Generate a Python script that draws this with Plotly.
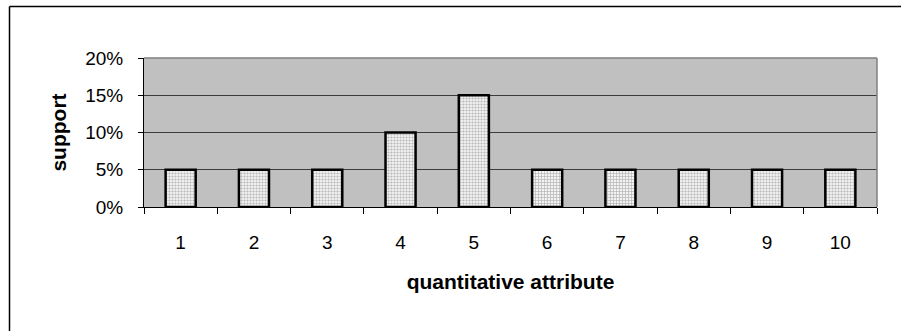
import plotly.graph_objects as go

categories = ["1", "2", "3", "4", "5", "6", "7", "8", "9", "10"]
support = [0.05, 0.05, 0.05, 0.10, 0.15, 0.05, 0.05, 0.05, 0.05, 0.05]
y_ticks = [0, 0.05, 0.10, 0.15, 0.20]
y_tick_labels = ["0%", "5%", "10%", "15%", "20%"]
patterns = [".", ".", ".", ".", ".", "+", "+", ".", ".", "."]

FONT = "Liberation Sans, Arial, sans-serif"

fig = go.Figure()
fig.add_trace(go.Bar(
    x=categories,
    y=support,
    marker=dict(
        color="#e6e6e6",
        line=dict(color="black", width=2.5),
        pattern=dict(shape=patterns, fgcolor="#b5b5b5", bgcolor="#f3f3f3",
                     size=3, solidity=0.4, fillmode="replace"),
    ),
    width=0.41,
    hoverinfo="skip",
))

L, R, T, B = 144, 24, 58, 124
W, H = 901, 331
pw, ph = W - L - R, H - T - B

def px_x(p):
    return (p - L) / pw

def px_y(p):
    return (H - B - p) / ph

fig.update_layout(
    width=W, height=H,
    margin=dict(l=L, r=R, t=T, b=B, pad=0),
    paper_bgcolor="white",
    plot_bgcolor="#c0c0c0",
    showlegend=False,
    font=dict(family=FONT, size=19, color="black"),
    xaxis=dict(
        type="category",
        tickson="boundaries",
        ticks="outside", ticklen=6, tickcolor="black", tickwidth=1,
        showline=True, linecolor="black", linewidth=1,
        showgrid=False,
        ticklabelstandoff=18,
        tickfont=dict(family=FONT, size=19),
        title=dict(text="<b>quantitative attribute</b>", standoff=22,
                   font=dict(family=FONT, size=21)),
    ),
    yaxis=dict(
        range=[0, 0.2],
        tickvals=y_ticks, ticktext=y_tick_labels,
        ticks="outside", ticklen=5, tickcolor="black", tickwidth=1,
        showline=True, linecolor="black", linewidth=1,
        showgrid=True, gridcolor="#3c3c3c", gridwidth=1,
        zeroline=False,
        ticklabelstandoff=11,
        tickfont=dict(family=FONT, size=19),
        title=dict(text="<b>support</b>", standoff=12,
                   font=dict(family=FONT, size=21)),
    ),
    shapes=[
        # grey top/right border of plot area
        dict(type="line", xref="paper", yref="paper", x0=0, x1=1, y0=1, y1=1,
             line=dict(color="#808080", width=1.5)),
        dict(type="line", xref="paper", yref="paper", x0=1, x1=1, y0=0, y1=1,
             line=dict(color="#808080", width=1.5)),
        # outer chart frame (left and top edges visible)
        dict(type="line", xref="paper", yref="paper",
             x0=px_x(9.5), x1=px_x(9.5), y0=px_y(6.5), y1=px_y(H + 5),
             line=dict(color="black", width=1.5)),
        dict(type="line", xref="paper", yref="paper",
             x0=px_x(9.5), x1=px_x(W + 5), y0=px_y(6.5), y1=px_y(6.5),
             line=dict(color="black", width=1.5)),
    ],
)

fig.write_html("out.html")
